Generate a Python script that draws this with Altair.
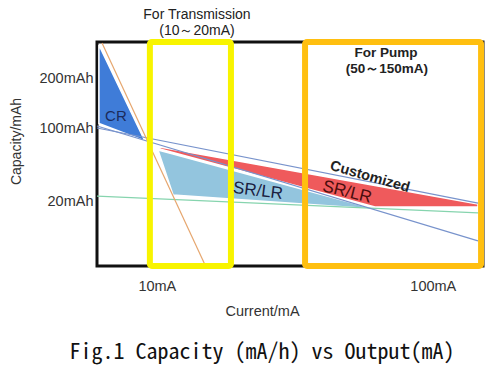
import altair as alt
import pandas as pd

# ---- data (schematic units: x = current, y = capacity, both on 0..100) ----
# filled regions: x positions with top / bottom edges
cr_x = [0.5, 12.4]
cr_top = [98.7, 55.8]
cr_bot = [63.6, 55.8]

red_x = [16.3, 72.0, 98.7]
red_top = [53.1, 35.9, 27.7]
red_bot = [52.2, 26.3, 26.3]

lb_x = [15.8, 19.7, 72.0]
lb_top = [51.8, 50.0, 25.4]
lb_bot = [51.8, 31.7, 25.4]

# characteristic lines
orange_x = [1.3, 28.0]
orange_y = [99.6, 0.4]
blue1_x = [0.0, 98.7]
blue1_y = [61.6, 28.1]
blue2_x = [0.0, 98.7]
blue2_y = [62.5, 11.2]
green_x = [0.0, 98.7]
green_y = [31.2, 23.7]

# usage ranges (boxes)
trans_x = [13.7, 34.7]
pump_x = [53.9, 99.5]
box_y = [0.0, 100.0]

# ticks
ytick_vals = [83.5, 61.6, 29.0]
ytick_labels = ["200mAh", "100mAh", "20mAh"]
xtick_vals = [15.5, 87.0]
xtick_labels = ["10mA", "100mA"]

# annotation texts
ann_text = ["For Transmission", "(10～20mA)", "For Pump", "(50～150mA)"]
ann_x = [25.9, 25.9, 74.9, 75.1]
ann_y = [112.1, 104.9, 95.1, 87.9]

# ---- build ----
def label_expr(vals, labels):
    parts = []
    for v, l in zip(vals, labels):
        parts.append(f"abs(datum.value - {v}) < 0.01 ? '{l}'")
    return " : ".join(parts) + " : ''"

xs = alt.Scale(domain=[0, 100], nice=False, zero=False)
ys = alt.Scale(domain=[0, 100], nice=False, zero=False)
LF = "Liberation Sans"

xax = alt.Axis(values=xtick_vals, labelExpr=label_expr(xtick_vals, xtick_labels),
               title="Current/mA", grid=False, ticks=False, tickSize=0, domain=False,
               labelPadding=13, labelFont=LF, labelFontSize=14.5, labelColor="#333",
               titleFont=LF, titleFontSize=14.5, titleFontWeight="normal", titleColor="#333",
               titleX=165, titleY=45, titleBaseline="middle")
yax = alt.Axis(values=ytick_vals, labelExpr=label_expr(ytick_vals, ytick_labels),
               title="Capacity/mAh", grid=False, ticks=False, tickSize=0, domain=False,
               labelPadding=4, labelFont=LF, labelFontSize=14.5, labelColor="#333",
               titleFont=LF, titleFontSize=14, titleFontWeight="normal", titleColor="#333",
               titleX=-81, titleY=99, titleBaseline="middle")

def X(f="x"):
    return alt.X(f"{f}:Q", scale=xs, axis=xax)

def Y(f="y"):
    return alt.Y(f"{f}:Q", scale=ys, axis=yax, stack=None)

def band(xv, top, bot, color):
    df = pd.DataFrame({"x": xv, "y": top, "y2": bot})
    return alt.Chart(df).mark_area(color=color, fillOpacity=1, stroke="white",
                                   strokeWidth=1.5, interpolate="linear").encode(
        x=X(), y=Y(), y2="y2:Q")

def line(xv, yv, color, w=1.2):
    df = pd.DataFrame({"x": xv, "y": yv})
    return alt.Chart(df).mark_line(color=color, strokeWidth=w).encode(x=X(), y=Y())

def box(xr, color):
    df = pd.DataFrame({"x": [xr[0]], "x2": [xr[1]], "y": [box_y[0]], "y2": [box_y[1]]})
    return alt.Chart(df).mark_rect(fillOpacity=0, stroke=color, strokeWidth=6,
                                   strokeJoin="round", cornerRadius=2).encode(
        x=X(), x2="x2:Q", y=Y(), y2="y2:Q")

def label(text, x, y, size, color, angle=0, weight="normal", font=LF):
    df = pd.DataFrame({"t": [text], "x": [x], "y": [y]})
    return alt.Chart(df).mark_text(fontSize=size, color=color, angle=angle,
                                   fontWeight=weight, font=font, align="center",
                                   baseline="middle").encode(x=X(), y=Y(), text="t:N")

layers = [
    band(cr_x, cr_top, cr_bot, "#3f7cd8"),
    band(lb_x, lb_top, lb_bot, "#93c5de"),
    band(red_x, red_top, red_bot, "#ef5a5c"),
    line(green_x, green_y, "#86d4ae"),
    line(blue1_x, blue1_y, "#7893cc"),
    line(blue2_x, blue2_y, "#7893cc"),
    line(orange_x, orange_y, "#e6a66e"),
    box(trans_x, "#f8f400"),
    box(pump_x, "#ffbf10"),
    label("CR", 4.9, 67.0, 15, "#1b2b5b"),
    label("SR/LR", 41.7, 33.5, 17, "#1a2040", angle=7),
    label("SR/LR", 64.8, 33.0, 17, "#4a0d0d", angle=14),
    label("Customized", 70.7, 39.7, 14.5, "#222222", angle=16, weight="bold"),
    label(ann_text[0], ann_x[0], ann_y[0], 14, "#222222"),
    label(ann_text[1], ann_x[1], ann_y[1], 14, "#222222"),
    label(ann_text[2], ann_x[2], ann_y[2], 13.5, "#222222", weight="bold"),
    label(ann_text[3], ann_x[3], ann_y[3], 13.5, "#222222", weight="bold"),
]

chart = alt.layer(*layers).properties(
    width=386, height=224,
    background="white",
    autosize=alt.AutoSizeParams(type="none"),
    padding={"left": 97, "top": 42, "right": 17, "bottom": 110},
    title=alt.TitleParams("Fig.1 Capacity (mA/h) vs Output(mA)", orient="bottom",
                          font="Noto Sans Mono CJK JP, Noto Sans CJK JP",
                          fontSize=22, fontWeight="normal", color="#111111",
                          anchor="middle", dx=-28, offset=24),
).configure_view(stroke="#111111", strokeWidth=3)

chart.save("out.html", embed_options={"renderer": "svg", "actions": False})
